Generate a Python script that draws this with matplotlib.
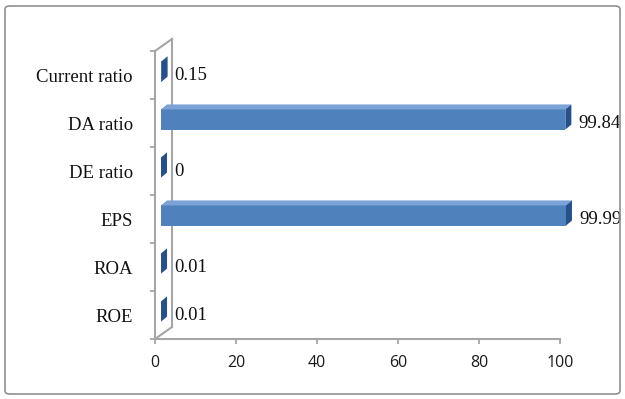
import matplotlib
matplotlib.use("Agg")
import matplotlib.pyplot as plt
from matplotlib.patches import Polygon, FancyBboxPatch
from matplotlib.transforms import ScaledTranslation
from matplotlib.lines import Line2D

categories = ["ROE", "ROA", "EPS", "DE ratio", "DA ratio", "Current ratio"]
values = [0.01, 0.01, 99.99, 0, 99.84, 0.15]
value_labels = ["0.01", "0.01", "99.99", "0", "99.84", "0.15"]
xticks = [0, 20, 40, 60, 80, 100]

W, H = 625, 399
fig = plt.figure(figsize=(W / 100, H / 100), dpi=100)
fig.patch.set_facecolor("white")

# outer rounded border
fig.patches.append(FancyBboxPatch((5 / W, 5 / H), 1 - 10 / W, 1 - 11 / H,
                                  boxstyle="round,pad=0,rounding_size=0.008",
                                  transform=fig.transFigure, fill=False,
                                  edgecolor="#909090", linewidth=1.2))

ax = fig.add_axes([155 / W, 60 / H, 405 / W, 288 / H])
ax.set_xlim(0, 100)
ax.set_ylim(-0.5, 5.5)
for s in ["top", "right"]:
    ax.spines[s].set_visible(False)
gray = "#a6a6a6"
ax.spines["left"].set_color(gray)
ax.spines["bottom"].set_color(gray)
ax.spines["left"].set_linewidth(1.5)
ax.spines["bottom"].set_linewidth(1.5)

ax.set_xticks(xticks)
ax.set_xticklabels([str(t) for t in xticks], fontfamily="Open Sans", fontsize=11.5, color="#1a1a1a")
ax.tick_params(axis="x", direction="out", length=3.5, width=1.3, color=gray, pad=8)

ax.set_yticks(range(len(categories)))
ax.set_yticklabels(categories, fontfamily="Liberation Serif", fontsize=13.5, color="#111111")
ax.set_yticks([i - 0.5 for i in range(len(categories) + 1)], minor=True)
ax.tick_params(axis="y", which="major", length=0, pad=16)
ax.tick_params(axis="y", which="minor", direction="out", length=3.5, width=1.3, color=gray)

# side wall (depth) lines
ddx, ddy = 17 / 405, 12 / 288
for (x0, y0, x1, y1) in [(ddx, ddy, ddx, 1 + ddy), (0, 1, ddx, 1 + ddy), (0, 0, ddx, ddy)]:
    ax.add_line(Line2D([x0, x1], [y0, y1], transform=ax.transAxes, color=gray,
                       linewidth=1.5, clip_on=False, zorder=1))

# bars (front face shifted into the depth)
shift = ax.transData + ScaledTranslation(6 / 100, 3.5 / 100, fig.dpi_scale_trans)
bh = 0.42
front = "#4f81bd"
topc = "#7ba3d9"
capc = "#25508a"
ddx_data = 6 / 4.05
ddy_data = 5 / 48
for i, v in enumerate(values):
    bars = ax.barh(i, v, height=bh, color=front, transform=shift, zorder=3, linewidth=0)
    for b in bars:
        b.set_clip_on(False)
    yt = i + bh / 2
    yb = i - bh / 2
    top = Polygon([(0, yt), (v, yt), (v + ddx_data, yt + ddy_data), (ddx_data, yt + ddy_data)],
                  closed=True, facecolor=topc, edgecolor="none", transform=shift, zorder=3,
                  clip_on=False)
    cap = Polygon([(v, yb), (v, yt), (v + ddx_data, yt + ddy_data), (v + ddx_data, yb + ddy_data)],
                  closed=True, facecolor=capc, edgecolor="none", transform=shift, zorder=4,
                  clip_on=False)
    ax.add_patch(top)
    ax.add_patch(cap)

lab_tr = ax.transData + ScaledTranslation(19 / 100, -1 / 100, fig.dpi_scale_trans)
for i, (v, lab) in enumerate(zip(values, value_labels)):
    ax.text(v, i, lab, transform=lab_tr, ha="left", va="center",
            fontfamily="Liberation Serif", fontsize=13.5, color="#111111", zorder=5)

fig.savefig("out.png", dpi=100)
